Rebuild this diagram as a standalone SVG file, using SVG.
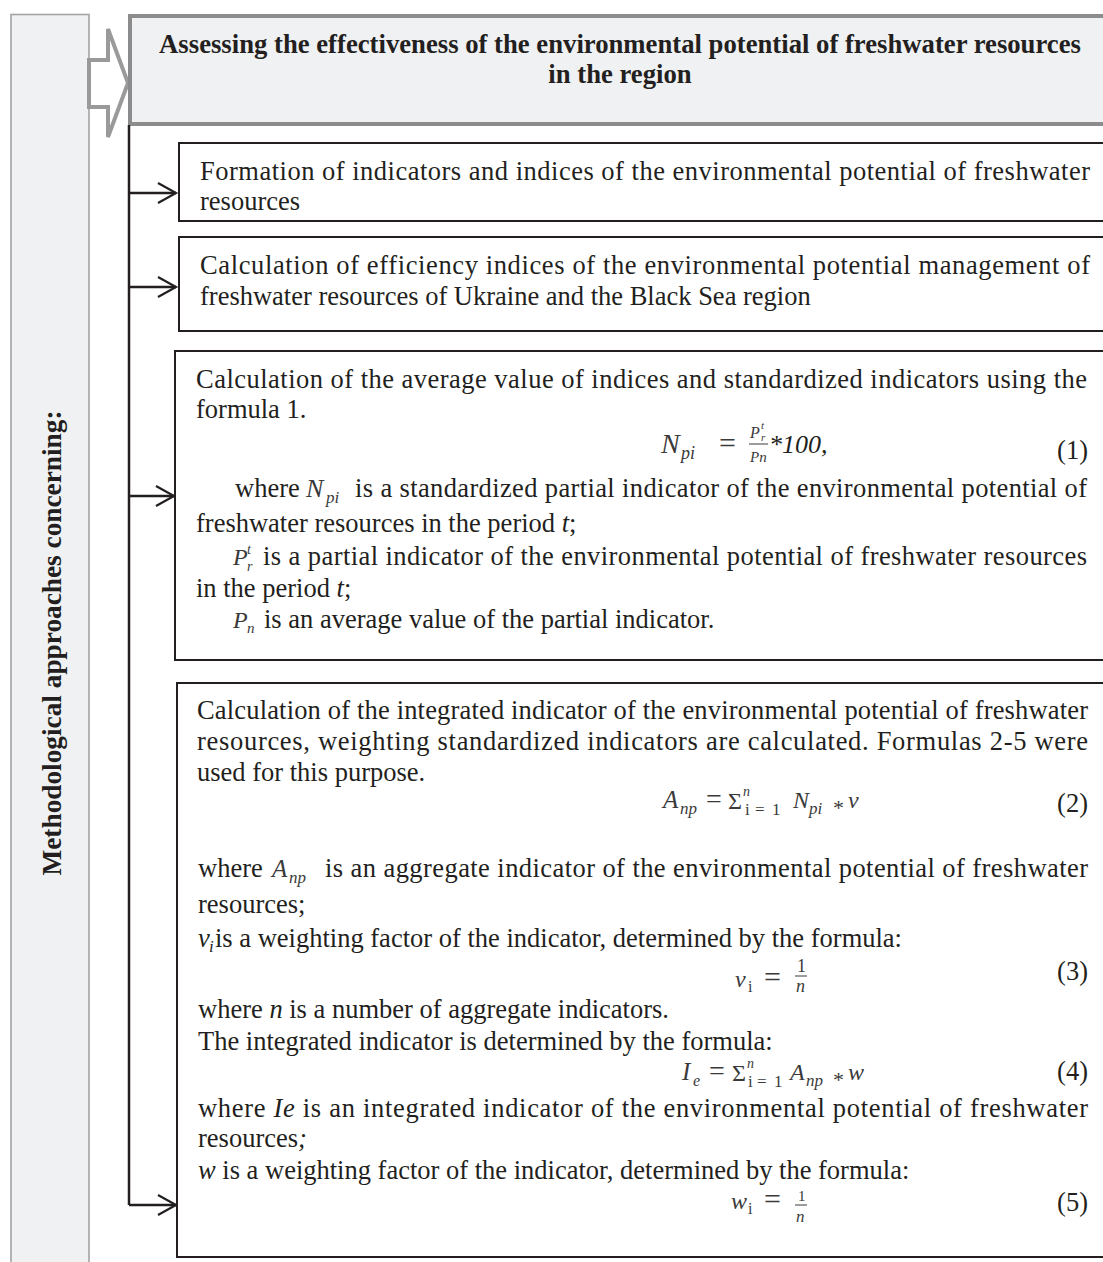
<svg xmlns="http://www.w3.org/2000/svg" width="1103" height="1262" viewBox="0 0 1103 1262">
<style>
.t{font-family:"Liberation Serif","Times New Roman",serif;font-size:26.5px;fill:#231f20}
.b{font-weight:bold}
.i{font-style:italic}
.m{font-family:"Liberation Serif","Times New Roman",serif;font-style:italic;fill:#3a3a3a}
.g{fill:#3a3a3a}
.box{fill:#ffffff;stroke:#231f20;stroke-width:2}
.conn{fill:none;stroke:#231f20;stroke-width:2.5}
</style>
<defs>
<marker id="ah" markerUnits="userSpaceOnUse" markerWidth="22" markerHeight="24" refX="19" refY="11" orient="auto">
<path d="M1,1 L19,11 L1,21" fill="none" stroke="#231f20" stroke-width="2.2"/>
</marker>
</defs>
<rect width="1103" height="1262" fill="#ffffff"/>

<g id="left-panel">
<rect x="11" y="14.5" width="78" height="1260" fill="#f0f1f3" stroke="#a3a3a3" stroke-width="1.6"/>
<text class="t b" style="font-size:27.3px" transform="translate(61,643) rotate(-90)" text-anchor="middle">Methodological approaches concerning:</text>
</g>

<g id="block-arrow">
<polygon points="89,60 108,60 108,29 128,83 108,137 108,107 89,107" fill="#ffffff" stroke="#9a9a9a" stroke-width="4" stroke-linejoin="miter"/>
</g>

<g id="title">
<rect x="130" y="16" width="990" height="108" fill="#f0f1f3" stroke="#8c8c8c" stroke-width="4"/>
<text class="t b" style="font-size:26.7px" x="620" y="53" text-anchor="middle">Assessing the effectiveness of the environmental potential of freshwater resources</text>
<text class="t b" style="font-size:26.7px" x="620" y="83" text-anchor="middle">in the region</text>
</g>

<g id="connectors">
<path class="conn" d="M129,125 L129,1205"/>
<path class="conn" d="M129,193 L176,193" marker-end="url(#ah)"/>
<path class="conn" d="M129,287 L176,287" marker-end="url(#ah)"/>
<path class="conn" d="M129,496 L174,496" marker-end="url(#ah)"/>
<path class="conn" d="M129,1205 L176,1205" marker-end="url(#ah)"/>
</g>

<g id="box1">
<rect class="box" x="179" y="143" width="940" height="78"/>
<text class="t" x="200" y="180" textLength="890" lengthAdjust="spacing">Formation of indicators and indices of the environmental potential of freshwater</text>
<text class="t" x="200" y="210">resources</text>
</g>

<g id="box2">
<rect class="box" x="179" y="237" width="940" height="94"/>
<text class="t" x="200" y="274" textLength="890" lengthAdjust="spacing">Calculation of efficiency indices of the environmental potential management of</text>
<text class="t" x="200" y="305">freshwater resources of Ukraine and the Black Sea region</text>
</g>

<g id="box3">
<rect class="box" x="175" y="351" width="944" height="309"/>
<text class="t" x="196" y="388" textLength="891" lengthAdjust="spacing">Calculation of the average value of indices and standardized indicators using the</text>
<text class="t" x="196" y="418">formula 1.</text>
<g id="formula1">
<text class="m" font-size="28" x="661" y="453">N</text>
<text class="m" font-size="18" x="681" y="459">pi</text>
<text class="t g" style="font-size:30px" x="719" y="453">=</text>
<text class="m" font-size="16" x="750" y="438">P</text>
<text class="m" font-size="11" x="761" y="429">t</text>
<text class="m" font-size="11" x="761" y="441">r</text>
<line x1="749" y1="444" x2="768" y2="444" stroke="#3a3a3a" stroke-width="1"/>
<text class="m" font-size="15" x="750" y="462">Pn</text>
<text class="t i" style="font-size:26px" x="769" y="453">*100,</text>
<text class="t" x="1088" y="459" text-anchor="end">(1)</text>
</g>
<text class="t" x="235" y="497">where</text>
<text class="m" font-size="26" x="306" y="497">N</text>
<text class="m" font-size="17" x="326" y="503">pi</text>
<text class="t" x="355" y="497" textLength="732" lengthAdjust="spacing">is a standardized partial indicator of the environmental potential of</text>
<text class="t" x="196" y="532">freshwater resources in the period <tspan class="i">t</tspan>;</text>
<text class="m" font-size="24" x="233" y="565">P</text>
<text class="m" font-size="14" x="247" y="554">t</text>
<text class="m" font-size="14" x="247" y="571">r</text>
<text class="t" x="263" y="565" textLength="824" lengthAdjust="spacing">is a partial indicator of the environmental potential of freshwater resources</text>
<text class="t" x="196" y="597">in the period <tspan class="i">t</tspan>;</text>
<text class="m" font-size="24" x="233" y="628">P</text>
<text class="m" font-size="15" x="247" y="633">n</text>
<text class="t" x="264" y="628">is an average value of the partial indicator.</text>
</g>

<g id="box4">
<rect class="box" x="177" y="683" width="942" height="574"/>
<text class="t" x="197" y="719" textLength="891" lengthAdjust="spacing">Calculation of the integrated indicator of the environmental potential of freshwater</text>
<text class="t" x="197" y="750" textLength="891" lengthAdjust="spacing">resources, weighting standardized indicators are calculated. Formulas 2-5 were</text>
<text class="t" x="197" y="781">used for this purpose.</text>
<g id="formula2">
<text class="m" font-size="25" x="663" y="808">A</text>
<text class="m" font-size="17" x="680" y="814">np</text>
<text class="t g" style="font-size:28px" x="706" y="808">=</text>
<text class="t g" style="font-size:24px" x="728" y="809">Σ</text>
<text class="m" font-size="14" x="743" y="796">n</text>
<text class="t g" style="font-size:17px" x="745" y="815">i</text>
<text class="t g" style="font-size:17px" x="755" y="815">=</text>
<text class="t g" style="font-size:17px" x="772" y="815">1</text>
<text class="m" font-size="24" x="793" y="808">N</text>
<text class="m" font-size="17" x="809" y="814">pi</text>
<text class="t g" style="font-size:22px" x="833" y="815">*</text>
<text class="m" font-size="24" x="848" y="808">v</text>
<text class="t" x="1088" y="812" text-anchor="end">(2)</text>
</g>
<text class="t" x="198" y="877">where</text>
<text class="m" font-size="25" x="272" y="877">A</text>
<text class="m" font-size="17" x="289" y="883">np</text>
<text class="t" x="325" y="877" textLength="763" lengthAdjust="spacing">is an aggregate indicator of the environmental potential of freshwater</text>
<text class="t" x="198" y="913">resources;</text>
<text class="t i" x="198" y="947">v</text>
<text class="t i" style="font-size:17px" x="209" y="952">i</text>
<text class="t" x="215" y="947">is a weighting factor of the indicator, determined by the formula:</text>
<g id="formula3">
<text class="m" font-size="24" x="735" y="987">v</text>
<text class="t g" style="font-size:16px" x="748" y="992">i</text>
<text class="t g" style="font-size:30px" x="764" y="987">=</text>
<text class="t g" style="font-size:18px" x="797" y="972">1</text>
<line x1="795" y1="976" x2="807" y2="976" stroke="#3a3a3a" stroke-width="1"/>
<text class="m" font-size="18" x="796" y="992">n</text>
<text class="t" x="1088" y="980" text-anchor="end">(3)</text>
</g>
<text class="t" x="198" y="1018">where <tspan class="i">n</tspan> is a number of aggregate indicators.</text>
<text class="t" x="198" y="1050">The integrated indicator is determined by the formula:</text>
<g id="formula4">
<text class="m" font-size="25" x="682" y="1080">I</text>
<text class="m" font-size="16" x="693" y="1086">e</text>
<text class="t g" style="font-size:28px" x="709" y="1080">=</text>
<text class="t g" style="font-size:24px" x="732" y="1081">Σ</text>
<text class="m" font-size="14" x="747" y="1068">n</text>
<text class="t g" style="font-size:17px" x="748" y="1087">i</text>
<text class="t g" style="font-size:17px" x="757" y="1087">=</text>
<text class="t g" style="font-size:17px" x="774" y="1087">1</text>
<text class="m" font-size="24" x="790" y="1080">A</text>
<text class="m" font-size="17" x="806" y="1086">np</text>
<text class="t g" style="font-size:22px" x="833" y="1087">*</text>
<text class="m" font-size="24" x="848" y="1080">w</text>
<text class="t" x="1088" y="1080" text-anchor="end">(4)</text>
</g>
<text class="t" x="198" y="1117" textLength="890" lengthAdjust="spacing">where <tspan class="i">Ie</tspan> is an integrated indicator of the environmental potential of freshwater</text>
<text class="t" x="198" y="1147">resources<tspan class="i">;</tspan></text>
<text class="t" x="198" y="1179"><tspan class="i">w</tspan> is a weighting factor of the indicator, determined by the formula:</text>
<g id="formula5">
<text class="m" font-size="24" x="731" y="1209">w</text>
<text class="t g" style="font-size:16px" x="748" y="1214">i</text>
<text class="t g" style="font-size:30px" x="764" y="1209">=</text>
<text class="t g" style="font-size:15px" x="798" y="1201">1</text>
<line x1="795" y1="1205" x2="807" y2="1205" stroke="#3a3a3a" stroke-width="1"/>
<text class="m" font-size="17" x="796" y="1222">n</text>
<text class="t" x="1088" y="1211" text-anchor="end">(5)</text>
</g>
</g>
</svg>
